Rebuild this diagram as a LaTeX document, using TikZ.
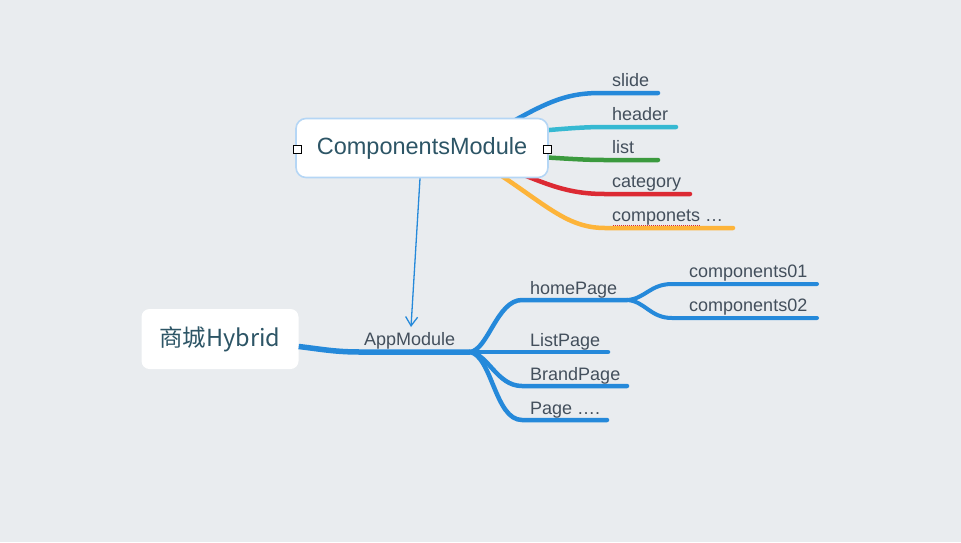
\documentclass[tikz,border=0pt]{standalone}
\usepackage{fontspec}
\setmainfont{Liberation Sans}
\newfontfamily\cjk{Noto Sans CJK SC}
\usetikzlibrary{arrows.meta}
\definecolor{bgc}{HTML}{E9ECEF}
\definecolor{mblue}{HTML}{2589DA}
\definecolor{mcyan}{HTML}{36B9D2}
\definecolor{mgreen}{HTML}{3B9A3E}
\definecolor{mred}{HTML}{DC2A33}
\definecolor{morange}{HTML}{FDB43A}
\definecolor{boxborder}{HTML}{B5D6F5}
\definecolor{labeltext}{HTML}{434F5C}
\definecolor{boxtext}{HTML}{2D5566}
\tikzset{
  lbl/.style={anchor=base west, inner sep=0pt, text=labeltext, font=\fontsize{18}{18}\selectfont},
  branch/.style={line width=4.5pt, line cap=round},
  subbranch/.style={line width=4pt, line cap=round, mblue},
  handle/.style={draw=black, fill=white, line width=0.8pt, minimum size=8pt, inner sep=0pt},
}
\begin{document}
\begin{tikzpicture}[x=1pt,y=-1pt]
\useasboundingbox (0,0) rectangle (961,542);
\fill[bgc] (0,0) rectangle (961,542);

% --- upper branches (start hidden behind the box)
\coordinate (s0) at (480,140);
\coordinate (h0) at (505,134);
\coordinate (l0) at (505,155);
\coordinate (c0) at (485,160);
\coordinate (o0) at (460,150);
\coordinate (s1) at (600,93);   \coordinate (s2) at (658,93);
\coordinate (h1) at (605,127);  \coordinate (h2) at (676,127);
\coordinate (l1) at (605,160);  \coordinate (l2) at (658,160);
\coordinate (c1) at (605,194);  \coordinate (c2) at (690,194);
\coordinate (o1) at (605,228);  \coordinate (o2) at (733,228);

\draw[branch, mblue]   (s0) .. controls (540,106) and (560,93) .. (s1) -- (s2);
\draw[branch, mcyan]   (h0) .. controls (560,129) and (580,127) .. (h1) -- (h2);
\draw[branch, mgreen]  (l0) .. controls (560,158) and (580,160) .. (l1) -- (l2);
\draw[branch, mred]    (c0) .. controls (540,180) and (560,194) .. (c1) -- (c2);
\draw[branch, morange] (o0) .. controls (540,196) and (560,228) .. (o1) -- (o2);

% ComponentsModule box
\node (cm) [draw=boxborder, line width=1.6pt, fill=white, rounded corners=10pt,
  minimum width=252pt, minimum height=59pt, text=boxtext,
  font=\fontsize{23.5}{23.5}\selectfont] at (422,148) {ComponentsModule};
\node (hl) [handle] at (297,149) {};
\node (hr) [handle] at (547,149) {};

\node[lbl] (tslide) at (612,86) {slide};
\node[lbl] (theader) at (612,120.5) {header};
\node[lbl] (tlist) at (612,153.5) {list};
\node[lbl] (tcat) at (612,187.5) {category};
\node[lbl] (tcomp) at (612,221.5) {componets …};
\draw[mred, line width=1pt, dash pattern=on 1pt off 1pt] (613,225) -- (701,225);

% --- lower part
\node (hy) [fill=white, rounded corners=8pt, minimum width=157pt, minimum height=60pt,
  text=boxtext, font=\cjk\fontsize{23.5}{23.5}\selectfont] at (220,339) {商城Hybrid};

\coordinate (am) at (470,352);
\node[lbl] (tapp) at (364,345.5) {AppModule};
\draw[line width=5.5pt, mblue] (hy.east |- 0,346.5) .. controls (320,349) and (335,352) .. (360,352) -- (am);

% arrow
\draw[mblue, line width=1.3pt, -{Straight Barb[length=9pt,width=12pt]}] (cm.south -| 420,0) -- (411,327);

\coordinate (hp1) at (522,300); \coordinate (hp2) at (627,300);
\coordinate (lp2) at (608,352);
\coordinate (bp1) at (522,386); \coordinate (bp2) at (627,386);
\coordinate (pp1) at (522,420); \coordinate (pp2) at (607,420);

\draw[branch, mblue] (am) .. controls (488,350) and (497,300) .. (hp1) -- (hp2);
\draw[branch, mblue] (am) -- (lp2);
\draw[branch, mblue] (am) .. controls (488,354) and (497,386) .. (bp1) -- (bp2);
\draw[branch, mblue] (am) .. controls (492,356) and (495,420) .. (pp1) -- (pp2);

\node[lbl] (thome) at (530,294) {homePage};
\node[lbl] (tlistp) at (530,346) {ListPage};
\node[lbl] (tbrand) at (530,380) {BrandPage};
\node[lbl] (tpage) at (530,414) {Page ….};

\coordinate (k1) at (672,284); \coordinate (k2) at (817,284);
\coordinate (m1) at (672,318); \coordinate (m2) at (817,318);
\draw[subbranch] (hp2) .. controls (645,299) and (650,284) .. (k1) -- (k2);
\draw[subbranch] (hp2) .. controls (645,301) and (650,318) .. (m1) -- (m2);

\node[lbl] (tc1) at (689,277.5) {components01};
\node[lbl] (tc2) at (689,311.5) {components02};
\end{tikzpicture}
\end{document}
